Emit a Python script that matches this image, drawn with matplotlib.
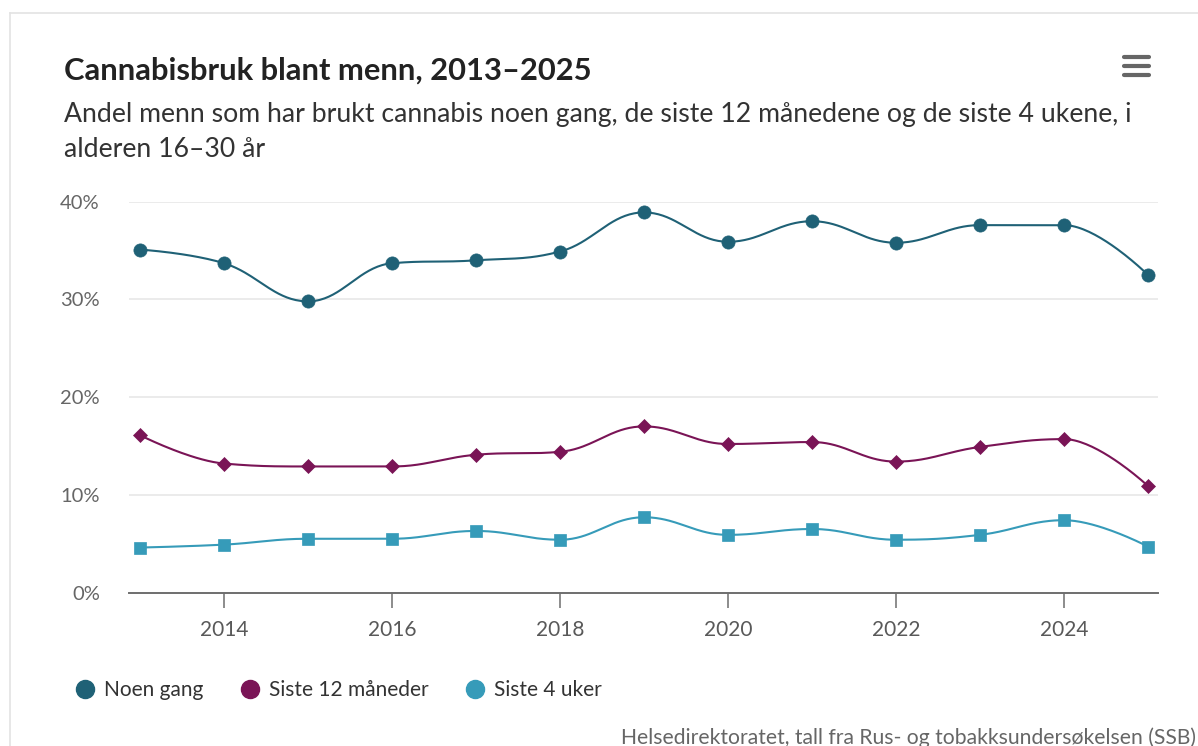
import matplotlib
matplotlib.use("Agg")
import matplotlib.pyplot as plt
from matplotlib.lines import Line2D
import numpy as np

# ---- data -----------------------------------------------------------------
years = [2013, 2014, 2015, 2016, 2017, 2018, 2019, 2020, 2021, 2022, 2023, 2024, 2025]
noen_gang = [35.1, 33.7, 29.8, 33.7, 34.0, 34.9, 38.9, 35.9, 38.0, 35.8, 37.6, 37.6, 32.5]
siste_12_mnd = [16.1, 13.2, 12.9, 12.9, 14.1, 14.4, 17.0, 15.2, 15.4, 13.4, 14.9, 15.7, 10.9]
siste_4_uker = [4.6, 4.9, 5.5, 5.5, 6.3, 5.4, 7.7, 5.9, 6.5, 5.4, 5.9, 7.4, 4.7]

series_names = ["Noen gang", "Siste 12 måneder", "Siste 4 uker"]
series_colors = ["#1f6176", "#7a1456", "#369bb9"]
series_markers = ["o", "D", "s"]
series_msize = [9.5, 7, 9]

y_ticks = [0, 10, 20, 30, 40]
x_ticks = [2014, 2016, 2018, 2020, 2022, 2024]

title = "Cannabisbruk blant menn, 2013–2025"
subtitle_lines = ["Andel menn som har brukt cannabis noen gang, de siste 12 månedene og de siste 4 ukene, i",
                  "alderen 16–30 år"]
credit = "Helsedirektoratet, tall fra Rus- og tobakksundersøkelsen (SSB)"

FONT = "Lato"
plt.rcParams["font.family"] = [FONT, "DejaVu Sans"]

W, H = 1198, 746
fig = plt.figure(figsize=(W / 100, H / 100), dpi=100)
fig.patch.set_facecolor("white")


def fx(px):
    return px / W


def fy(py):
    return 1 - py / H


def spline(xs, ys, n=40):
    """Smooth monotone-clamped bezier spline through the points."""
    sm, den = 1.5, 2.5
    N = len(xs)
    lc = [(xs[i], ys[i]) for i in range(N)]
    rc = [(xs[i], ys[i]) for i in range(N)]
    for i in range(1, N - 1):
        x, y = xs[i], ys[i]
        lx, ly = xs[i - 1], ys[i - 1]
        nx, ny = xs[i + 1], ys[i + 1]
        lcx = (sm * x + lx) / den
        lcy = (sm * y + ly) / den
        rcx = (sm * x + nx) / den
        rcy = (sm * y + ny) / den
        if rcx != lcx:
            corr = ((rcy - lcy) * (rcx - x)) / (rcx - lcx) + y - rcy
            lcy += corr
            rcy += corr
        if lcy > ly and lcy > y:
            lcy = max(ly, y)
            rcy = 2 * y - lcy
        elif lcy < ly and lcy < y:
            lcy = min(ly, y)
            rcy = 2 * y - lcy
        if rcy > ny and rcy > y:
            rcy = max(ny, y)
            lcy = 2 * y - rcy
        elif rcy < ny and rcy < y:
            rcy = min(ny, y)
            lcy = 2 * y - rcy
        lc[i] = (lcx, lcy)
        rc[i] = (rcx, rcy)
    t = np.linspace(0, 1, n)[:, None]
    out = []
    for i in range(1, N):
        p0 = np.array([xs[i - 1], ys[i - 1]])
        p1 = np.array(rc[i - 1])
        p2 = np.array(lc[i])
        p3 = np.array([xs[i], ys[i]])
        seg = ((1 - t) ** 3) * p0 + 3 * ((1 - t) ** 2) * t * p1 + 3 * (1 - t) * t ** 2 * p2 + t ** 3 * p3
        out.append(seg if i == 1 else seg[1:])
    pts = np.vstack(out)
    return pts[:, 0], pts[:, 1]


# ---- plot area ------------------------------------------------------------
left_px, right_px, top_px, bottom_px = 129, 1158, 201.7, 592.5
ax = fig.add_axes([fx(left_px), fy(bottom_px), fx(right_px - left_px), (bottom_px - top_px) / H])
px_per_year = 84.0
ax.set_xlim(2013 - (140 - left_px) / px_per_year, 2025 + (right_px - 1148) / px_per_year)
ax.set_ylim(0, 40)

for yv in y_ticks[1:]:
    ax.axhline(yv, color="#e6e6e6", lw=1.1, zorder=0)

for vals, col, mk, ms, name in zip([noen_gang, siste_12_mnd, siste_4_uker], series_colors,
                                    series_markers, series_msize, series_names):
    sx, sy = spline(years, vals)
    ax.plot(sx, sy, color=col, lw=1.5, zorder=2, solid_capstyle="round")
    ax.plot(years, vals, ls="none", marker=mk, ms=ms, color=col, mec=col, mew=0.5, zorder=3,
            label=name)

for s in ["top", "right", "left"]:
    ax.spines[s].set_visible(False)
ax.spines["bottom"].set_color("#6e6e6e")
ax.spines["bottom"].set_linewidth(1.4)

ax.set_yticks(y_ticks)
ax.set_yticklabels([f"{v}%" for v in y_ticks])
ax.tick_params(axis="y", length=0, pad=21, labelsize=14.5, labelcolor="#666666")
ax.set_xticks(x_ticks)
ax.set_xticklabels([str(v) for v in x_ticks])
ax.tick_params(axis="x", length=11, width=1.1, color="#6e6e6e", pad=9, labelsize=15,
               labelcolor="#595959", direction="out")

# ---- texts ----------------------------------------------------------------
fig.text(fx(64), fy(80), title, fontsize=22.2, fontweight="bold", color="#222222",
         va="baseline", ha="left")
for line, base in zip(subtitle_lines, (122, 157)):
    fig.text(fx(64), fy(base), line, fontsize=19.2, color="#333333", va="baseline", ha="left")
fig.text(fx(1196), fy(744), credit, fontsize=15.2, color="#666666", va="baseline", ha="right")

# legend
handles = [Line2D([], [], ls="none", marker="o", ms=13, color=c, mec=c) for c in series_colors]
fig.legend(handles, series_names, loc="center left", bbox_to_anchor=(fx(64), fy(690)),
           ncol=3, frameon=False, fontsize=15, handlelength=1.0, handletextpad=0.4,
           columnspacing=1.75, borderpad=0, labelcolor="#333333")

# menu icon
for yy in (57, 66, 75):
    fig.add_artist(Line2D([fx(1124), fx(1149)], [fy(yy), fy(yy)], color="#666666", lw=3,
                          solid_capstyle="round", transform=fig.transFigure))

# frame edges
fig.add_artist(Line2D([fx(10), fx(W)], [fy(12.5), fy(12.5)], color="#e3e3e3", lw=1.2,
                      transform=fig.transFigure))
fig.add_artist(Line2D([fx(10), fx(10)], [fy(12.5), fy(H)], color="#e3e3e3", lw=1.2,
                      transform=fig.transFigure))

fig.savefig("out.png", dpi=100)
